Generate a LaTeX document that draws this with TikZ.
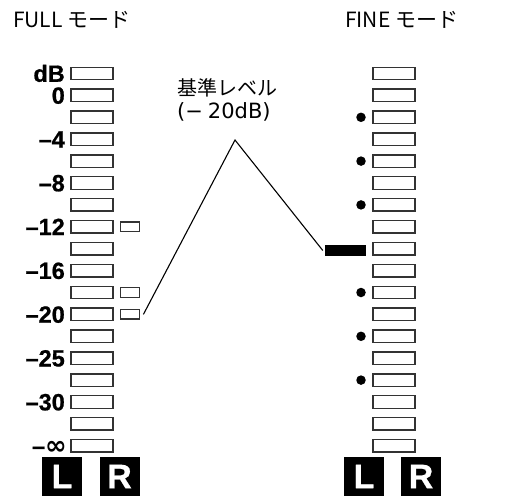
\documentclass[tikz,border=0pt]{standalone}
\usepackage{fontspec}
\setmainfont{Liberation Sans}
\newfontfamily\jpfont{Noto Sans CJK JP}
\newfontfamily\widefont{DejaVu Sans}
\newfontfamily\symbfont{DejaVu Sans Bold}
\newfontfamily\heavyfont[FakeBold=0.8]{Liberation Sans Bold}
\begin{document}
\begin{tikzpicture}[x=1pt,y=-1pt,
  seg/.style={draw=black!80,line width=1.4pt,fill=white,inner sep=0pt,
    minimum width=42pt,minimum height=12.5pt},
  smallseg/.style={draw=black!80,line width=1.4pt,fill=white,inner sep=0pt,
    minimum width=19pt,minimum height=9.5pt},
  refbar/.style={fill=black,inner sep=0pt,minimum width=41pt,minimum height=11pt},
  markdot/.style={circle,fill=black,inner sep=0pt,minimum size=9.5pt},
  dblabel/.style={anchor=base east,inner sep=0pt,
    font=\heavyfont\fontsize{23.5}{24}\selectfont},
  chbox/.style={fill=black,text=white,inner sep=0pt,minimum width=40pt,
    minimum height=39pt,font=\heavyfont\fontsize{34}{34}\selectfont},
  title/.style={anchor=west,inner sep=0pt,font=\jpfont\fontsize{21}{24}\selectfont},
  leader/.style={line width=1.1pt,black}]
\useasboundingbox (0,0) rectangle (512,496);

% meter rows: centre of row k
\def\rowy#1{73.5+21.9*#1}

% FULL mode meter (left column) and FINE mode meter (right column)
\foreach \k in {0,...,17}{
  \node[seg] (F\k) at (92,{\rowy{\k}}) {};
  \node[seg] (N\k) at (394,{\rowy{\k}}) {};
}

% FULL mode: lit R segments
\foreach \k in {7,10,11}{
  \node[smallseg] (S\k) at (129.7,{\rowy{\k}}) {};
}

% FINE mode: dot marks and reference bar
\foreach \k in {2,4,6,10,12,14}{
  \node[markdot] (D\k) at (361,{\rowy{\k}}) {};
}
\node[refbar] (ref) at (345.5,250.5) {};

% dB scale labels
\foreach \k/\t in {0/dB,1/0,3/–4,5/–8,7/–12,9/–16,11/–20,13/–25,15/–30}{
  \node[dblabel] (T\k) at (65,{\rowy{\k}+8.3}) {\t};
}
\node[dblabel] (T17) at (67,{\rowy{17}+8.3}) {–{\symbfont\fontsize{26}{26}\selectfont ∞}};

% titles
\node[title] (full) at (13,20) {FULL モード};
\node[title] (fine) at (345,20) {FINE モード};

% reference level note
\node[title,font=\jpfont\fontsize{20}{24}\selectfont] (note1) at (177,88) {基準レベル};
\node[title,font=\widefont\fontsize{21}{24}\selectfont] (note2) at (177,112)
  {(−\hspace{5pt}20dB)};
\coordinate (apex) at (235,140);
\draw[leader] ([xshift=3.5pt]S11.east) -- (apex) -- ([xshift=-2pt]ref.west);

% channel boxes
\node[chbox] (L1) at (62,476.5) {L};
\node[chbox] (R1) at (119.5,476.5) {R};
\node[chbox] (L2) at (364,476.5) {L};
\node[chbox] (R2) at (421,476.5) {R};
\end{tikzpicture}
\end{document}
